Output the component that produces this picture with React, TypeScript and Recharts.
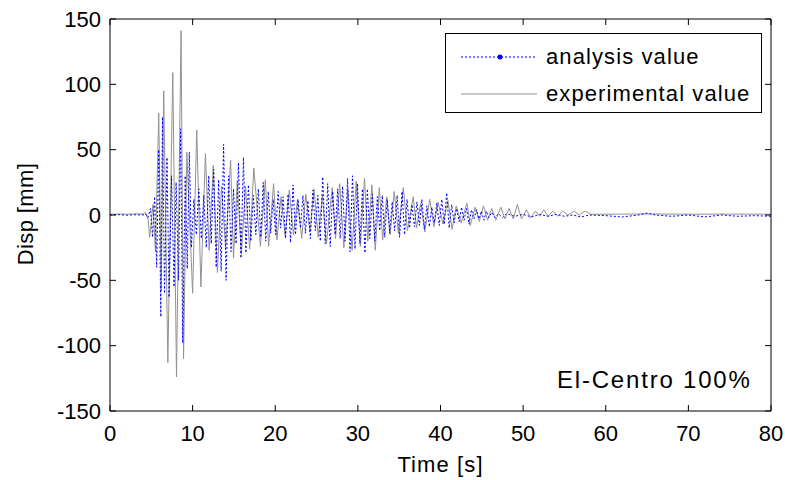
import React from 'react';
import { LineChart, Line, XAxis, YAxis } from 'recharts';

const xTicks = [0, 10, 20, 30, 40, 50, 60, 70, 80];
const yTicks = [-150, -100, -50, 0, 50, 100, 150];
const seriesNames = ['analysis value', 'experimental value'];
const xTitle = 'Time [s]';
const yTitle = 'Disp [mm]';
const annotation = 'El-Centro 100%';

// experimental value (gray solid)
const expTime = [
  0, 1, 2, 3, 4, 4.3, 4.6, 4.8, 5.2, 5.5, 5.9, 6.2, 6.5, 7.0, 7.6, 8.05, 8.6, 8.9, 9.3, 10.0,
  10.5, 11.0, 11.55, 12.0, 12.5, 13.0, 13.5, 14.0, 14.6, 14.95, 15.4, 15.9, 16.4, 16.9, 17.4, 18.2,
  18.8, 19.2, 19.8, 20.2, 20.7, 21.2, 21.7, 22.2, 22.7, 23.2, 23.7, 24.2, 24.7, 25.2, 25.7, 26.2,
  26.9, 27.3, 27.8, 28.3, 28.8, 29.3, 29.8, 30.3, 30.8, 31.2, 31.7, 32.1, 32.6, 33.0, 33.5, 33.9,
  34.4, 34.9, 35.5, 36.0, 36.7, 37.1, 37.6, 38.1, 38.7, 39.2, 39.7, 40.3, 40.9, 41.4, 41.9, 42.5,
  43.2, 43.6, 44.2, 44.7, 45.2, 45.7, 46.2, 46.7, 47.3, 47.8, 48.3, 48.8, 49.3, 49.8, 50.4, 50.9,
  51.5, 52.0, 52.5, 53.0, 53.6, 54.2, 54.8, 55.4, 56.2, 56.8, 57.5, 58.2, 60, 65, 70, 75, 80,
];
const expDisp = [
  0.5, 0.8, 0.6, 0.9, 0.7, 2, -3, -17, 8, -28, 78, -58, 95, -113, 109, -124, 141, -110, 48, -60,
  65, -55, 47, -27, 38, -44, 22, -25, 42, -33, 26, -30, 22, -26, 36, -24,
  27, -24, 24, -19, 14, -16, 19, -15, 12, -18, 16, -13, 20, -17, 15, -22,
  21, -18, 24, -25, 20, -27, 26, -24, 28, -20, 23, -27, 21, -19, 14, -15,
  18, -14, 21, -12, 14, -10, 9, -13, 12, -9, 10, -7, 11, -11, 7, -6,
  9, -8, 6, -5, 7, -4, 5, -4, 6, -3, 5, -3, 8, -3, 4, -2,
  3, -1, 4, -1, 3, -1, 3, 0, 3, 0, 3, 0.5, 0.6, 0.8, 0.6, 0.7, 0.6,
];

// analysis value (blue dotted)
const anaTime = [
  0, 1, 2, 3, 4, 4.3, 4.6, 4.9, 5.15, 5.4, 5.65, 5.9, 6.15, 6.35, 6.6, 6.9, 7.15, 7.45, 7.75, 8.0,
  8.3, 8.55, 8.8, 9.1, 9.35, 9.6, 9.85, 10.15, 10.45, 10.75, 11.05, 11.35, 11.65, 11.95, 12.25, 12.55,
  12.85, 13.15, 13.45, 13.75, 14.05, 14.35, 14.65, 14.95, 15.25, 15.55, 15.85, 16.15, 16.45, 16.75,
  17.05, 17.35, 17.65, 17.95, 18.25, 18.55, 18.85, 19.15, 19.45, 19.75, 20.05, 20.35, 20.65, 20.95,
  21.25, 21.55, 21.85, 22.15, 22.45, 22.75, 23.05, 23.35, 23.65, 23.95, 24.25, 24.55, 24.85, 25.15,
  25.45, 25.75, 26.05, 26.35, 26.65, 26.95, 27.25, 27.55, 27.85, 28.15, 28.45, 28.75, 29.05, 29.35,
  29.65, 29.95, 30.25, 30.55, 30.85, 31.15, 31.45, 31.75, 32.05, 32.35, 32.65, 32.95, 33.25, 33.55,
  33.85, 34.15, 34.45, 34.75, 35.05, 35.35, 35.65, 35.95, 36.25, 36.55, 36.85, 37.15, 37.45, 37.75,
  38.05, 38.35, 38.65, 38.95, 39.25, 39.55, 39.85, 40.15, 40.45, 40.75, 41.05, 41.35, 41.65, 41.95,
  42.25, 42.55, 42.85, 43.15, 43.45, 43.75, 44.05, 44.35, 44.65, 44.95, 45.25, 45.55, 45.85, 46.2,
  46.6, 47.0, 47.5, 48.0, 49.0, 50.0, 51.0, 52.0, 53.0, 54.0, 55.0, 56.0, 57.0, 58.0, 60, 62, 64,
  65, 66, 68, 70, 72, 74, 76, 78, 80,
];
const anaDisp = [
  0, 0.3, -0.2, 0.2, 0, 0.8, -2, 5, -17, 14, -40, 50, -78, 75, -60, 44, -63, 30, -55, 25,
  -50, 66, -98, 30, -41, 48, -25, 12, -15, 20, -18, 15, -25, 30, -22, 35,
  -40, 27, -43, 54, -50, 30, -28, 20, -22, 40, -33, 44, -29, 23,
  -20, 15, -15, 20, -17, 25, -20, 18, -14, 12, -15, 18, -10, 14,
  -18, 16, -21, 23, -15, 12, -10, 15, -14, 11, -18, 19, -12, 15,
  -20, 29, -22, 24, -24, 18, -15, 20, -18, 22, -20, 28, -28, 30,
  -26, 24, -22, 20, -29, 20, -18, 16, -20, 14, -12, 15, -17, 12,
  -14, 10, -12, 15, -17, 18, -15, 12, -10, 8, -9, 10, -8, 12,
  -11, 7, -9, 6, -6, 9, -8, 12, -7, 17, -10, 8, -6, 5,
  -5, 6, -4, 5, -7, 4, -3, 4, -3, 3, -4, 3, -2, 2,
  -2, 1, -2, 1, -1, 0.5, -1.5, 0.5, -1, 0.5, -1, 0, -1.5, 0, -0.5, -1.5, 0,
  1.5, 0, -1, 0, -1.5, 0, -1, -0.5, -1,
];

const expData = expTime.map((t, i) => ({ t, v: expDisp[i] }));
const anaData = anaTime.map((t, i) => ({ t, v: anaDisp[i] }));

const FONT = '"Liberation Sans", Arial, sans-serif';
const BLUE = '#0000ff';
const GRAY = '#929292';
const TICK_LEN = 6;
const X_MARGIN = 14;
const Y_MARGIN = 9;
const TICK_FONT = 22;

const BottomTick = (props: any) => {
  const { x, y, payload } = props;
  const base = y - X_MARGIN;
  return (
    <g>
      <line x1={x} x2={x} y1={base} y2={base - TICK_LEN} stroke="#000" strokeWidth={1} />
      <text x={x} y={y} dy="0.71em" textAnchor="middle" fill="#000" fontSize={TICK_FONT} fontFamily={FONT}>
        {payload.value}
      </text>
    </g>
  );
};

const LeftTick = (props: any) => {
  const { x, y, payload } = props;
  const base = x + Y_MARGIN;
  return (
    <g>
      <line x1={base} x2={base + TICK_LEN} y1={y} y2={y} stroke="#000" strokeWidth={1} />
      <text x={x} y={y} dy="0.355em" textAnchor="end" fill="#000" fontSize={TICK_FONT} fontFamily={FONT}>
        {payload.value}
      </text>
    </g>
  );
};

const TopTick = (props: any) => {
  const { x, y } = props;
  return <line x1={x} x2={x} y1={y} y2={y + TICK_LEN} stroke="#000" strokeWidth={1} />;
};

const RightTick = (props: any) => {
  const { x, y } = props;
  return <line x1={x - TICK_LEN} x2={x} y1={y} y2={y} stroke="#000" strokeWidth={1} />;
};

export default function App() {
  return (
    <div style={{ position: 'absolute', left: 0, top: 0, width: 785, height: 480, background: '#fff', fontFamily: FONT }}>
      <LineChart width={785} height={480} margin={{ top: 18, right: 13, left: 0, bottom: 0 }}>
        <XAxis
          xAxisId="b"
          dataKey="t"
          type="number"
          domain={[0, 80]}
          ticks={xTicks}
          interval={0}
          allowDataOverflow
          height={69}
          tickSize={0}
          tickMargin={X_MARGIN}
          tickLine={false}
          stroke="#000"
          tick={<BottomTick />}
        />
        <XAxis
          xAxisId="top"
          orientation="top"
          dataKey="t"
          type="number"
          domain={[0, 80]}
          ticks={xTicks}
          interval={0}
          allowDataOverflow
          height={1}
          tickSize={0}
          tickMargin={0}
          tickLine={false}
          tick={<TopTick />}
          stroke="#000"
        />
        <YAxis
          yAxisId="l"
          type="number"
          domain={[-150, 150]}
          ticks={yTicks}
          interval={0}
          allowDataOverflow
          width={110}
          tickSize={0}
          tickMargin={Y_MARGIN}
          tickLine={false}
          stroke="#000"
          tick={<LeftTick />}
        />
        <YAxis
          yAxisId="r"
          orientation="right"
          type="number"
          domain={[-150, 150]}
          ticks={yTicks}
          interval={0}
          allowDataOverflow
          width={1}
          tickSize={0}
          tickMargin={0}
          tickLine={false}
          tick={<RightTick />}
          stroke="#000"
        />
        <Line
          xAxisId="b"
          yAxisId="l"
          data={expData}
          dataKey="v"
          type="linear"
          stroke={GRAY}
          strokeWidth={1}
          dot={false}
          isAnimationActive={false}
          name={seriesNames[1]}
        />
        <Line
          xAxisId="top"
          yAxisId="r"
          data={anaData}
          dataKey="v"
          type="linear"
          stroke={BLUE}
          strokeWidth={1}
          strokeDasharray="2 2"
          dot={false}
          isAnimationActive={false}
          name={seriesNames[0]}
        />
      </LineChart>

      {/* axis titles */}
      <div style={{ position: 'absolute', left: 110, top: 452, width: 661, textAlign: 'center', fontSize: 22, lineHeight: '26px', color: '#000', letterSpacing: 1.1 }}>
        {xTitle}
      </div>
      <div style={{ position: 'absolute', left: 26, top: 214, transform: 'translate(-50%, -50%) rotate(-90deg)', fontSize: 22, whiteSpace: 'nowrap', color: '#000', letterSpacing: 0.4 }}>
        {yTitle}
      </div>

      {/* annotation */}
      <div style={{ position: 'absolute', left: 557, top: 366, fontSize: 24, lineHeight: '28px', whiteSpace: 'nowrap', color: '#000', letterSpacing: 1.8 }}>
        {annotation}
      </div>

      {/* legend */}
      <div style={{ position: 'absolute', left: 445, top: 33, width: 317, height: 80, border: '1px solid #000', background: '#fff', boxSizing: 'border-box' }}>
        {seriesNames.map((name, i) => (
          <div key={name} style={{ position: 'absolute', left: 0, top: i === 0 ? 9 : 46, height: 28, display: 'flex', alignItems: 'center' }}>
            <svg width={100} height={28} style={{ display: 'block' }}>
              {i === 0 ? (
                <g>
                  <line x1={15} y1={14} x2={91} y2={14} stroke={BLUE} strokeDasharray="2 2" strokeWidth={1} />
                  <circle cx={54} cy={14} r={2.5} fill={BLUE} />
                </g>
              ) : (
                <line x1={15} y1={14} x2={91} y2={14} stroke={GRAY} strokeWidth={1} />
              )}
            </svg>
            <span style={{ fontSize: 22, color: '#000', whiteSpace: 'nowrap', letterSpacing: 1.1 }}>{name}</span>
          </div>
        ))}
      </div>
    </div>
  );
}
